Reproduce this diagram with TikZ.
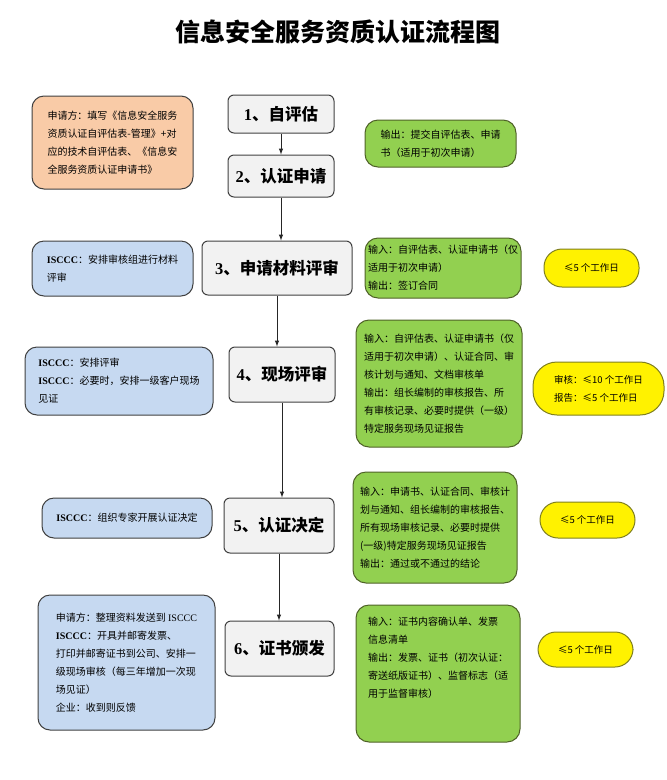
\documentclass[tikz,border=0pt]{standalone}
\usepackage{fontspec}
\setmainfont{Liberation Serif}
\newfontfamily\cjk{Noto Sans CJK SC}
\usepackage{tikz}
\usetikzlibrary{arrows}

\definecolor{stepgray}{HTML}{F2F2F2}
\definecolor{edgegray}{HTML}{404040}
\definecolor{peach}{HTML}{F9CBA7}
\definecolor{paleblue}{HTML}{C6D9F1}
\definecolor{leafgreen}{HTML}{92D050}
\definecolor{darkgreen}{HTML}{4F6228}
\definecolor{olive}{HTML}{7F7F1F}

\newcommand{\isccc}{{\rmfamily\bfseries ISCCC}}
\newcommand{\num}[1]{{\rmfamily\bfseries #1}}

\tikzset{
  stepbox/.style={draw=edgegray, fill=stepgray, line width=1pt, rounded corners=6pt,
    font=\cjk\bfseries\fontsize{16.5}{20}\selectfont, inner sep=0pt},
  notebox/.style={draw=edgegray, line width=1pt, rounded corners=12pt, align=left,
    font=\cjk\fontsize{10}{18}\selectfont, inner sep=0pt},
  iobox/.style={draw=darkgreen, fill=leafgreen, line width=1pt, rounded corners=13pt,
    align=left, font=\cjk\fontsize{10}{18}\selectfont, inner sep=0pt},
  daysbox/.style={draw=olive, fill=yellow, line width=1pt, rounded corners=18pt,
    align=left, font=\cjk\fontsize{9.5}{18}\selectfont, inner sep=0pt},
  flow/.style={-latex, line width=1pt, draw=black!85}
}

\begin{document}
\begin{tikzpicture}[x=1pt, y=-1pt]
  \useasboundingbox (0,0) rectangle (667,780);

  \node[font=\cjk\bfseries\fontsize{25}{30}\selectfont] (title) at (338,32) {信息安全服务资质认证流程图};

  \node[stepbox, minimum width=106pt, minimum height=38pt] (s1) at (281,114) {\num{1}、自评估};
  \node[stepbox, minimum width=106pt, minimum height=42pt] (s2) at (281,176) {\num{2}、认证申请};
  \node[stepbox, minimum width=150pt, minimum height=54pt] (s3) at (277,268) {\num{3}、申请材料评审};
  \node[stepbox, minimum width=106pt, minimum height=55pt] (s4) at (282,374.5) {\num{4}、现场评审};
  \node[stepbox, minimum width=110pt, minimum height=55pt] (s5) at (279,525.5) {\num{5}、认证决定};
  \node[stepbox, minimum width=109pt, minimum height=55pt] (s6) at (279.5,648.5) {\num{6}、证书颁发};

  \draw[flow] (s1.south) -- (s1.south |- s2.north);
  \draw[flow] (s2.south) -- (s2.south |- s3.north);
  \draw[flow] (s3.south) -- (s3.south |- s4.north);
  \draw[flow] (s4.south) -- (s4.south |- s5.north);
  \draw[flow] (s5.south) -- (s5.south |- s6.north);

  \node[notebox, fill=peach, minimum width=161pt, minimum height=93pt] (n1) at (112.5,142.5)
    {申请方：填写《信息安全服务\\资质认证自评估表-管理》+对\\应的技术自评估表、《信息安\\全服务资质认证申请书》};
  \node[notebox, fill=paleblue, minimum width=161pt, minimum height=55pt] (n3) at (112.5,268.5)
    {\isccc：安排审核组进行材料\\评审};
  \node[notebox, fill=paleblue, minimum width=188pt, minimum height=68pt] (n4) at (119,381)
    {\isccc：安排评审\\\isccc：必要时，安排一级客户现场\\见证};
  \node[notebox, fill=paleblue, minimum width=170pt, minimum height=40pt] (n5) at (127,518)
    {\isccc：组织专家开展认证决定};
  \node[notebox, fill=paleblue, minimum width=177pt, minimum height=135pt] (n6) at (126.5,662.5)
    {申请方：整理资料发送到 {\rmfamily ISCCC}\\\isccc：开具并邮寄发票、\\打印并邮寄证书到公司、安排一\\级现场审核（每三年增加一次现\\场见证）\\企业：收到则反馈};

  \node[iobox, minimum width=151pt, minimum height=47pt] (o1) at (440.5,143.5)
    {输出：提交自评估表、申请\\书（适用于初次申请）};
  \node[iobox, minimum width=156pt, minimum height=60pt] (o3) at (443,268)
    {输入：自评估表、认证申请书（仅\\适用于初次申请）\\输出：签订合同};
  \node[iobox, minimum width=166pt, minimum height=127pt] (o4) at (439,383.5)
    {输入：自评估表、认证申请书（仅\\适用于初次申请）、认证合同、审\\核计划与通知、文档审核单\\输出：组长编制的审核报告、所\\有审核记录、必要时提供（一级）\\特定服务现场见证报告};
  \node[iobox, minimum width=164pt, minimum height=111pt] (o5) at (435,527.5)
    {输入：申请书、认证合同、审核计\\划与通知、组长编制的审核报告、\\所有现场审核记录、必要时提供\\(一级)特定服务现场见证报告\\输出：通过或不通过的结论};
  \node[iobox, minimum width=164pt, minimum height=137pt] (o6) at (438,673.5)
    {输入：证书内容确认单、发票\\信息清单\\输出：发票、证书（初次认证：\\寄送纸版证书）、监督标志（适\\用于监督审核）\\[14pt]};

  \node[daysbox, minimum width=95pt, minimum height=38pt] (d3) at (591.5,268) {≤5 个工作日};
  \node[daysbox, minimum width=131pt, minimum height=53pt, rounded corners=24pt] (d4) at (598.5,388.5)
    {审核：≤10 个工作日\\报告：≤5 个工作日};
  \node[daysbox, minimum width=95pt, minimum height=36pt] (d5) at (587.5,520) {≤5 个工作日};
  \node[daysbox, minimum width=95pt, minimum height=35pt] (d6) at (585.5,649.5) {≤5 个工作日};
\end{tikzpicture}
\end{document}
